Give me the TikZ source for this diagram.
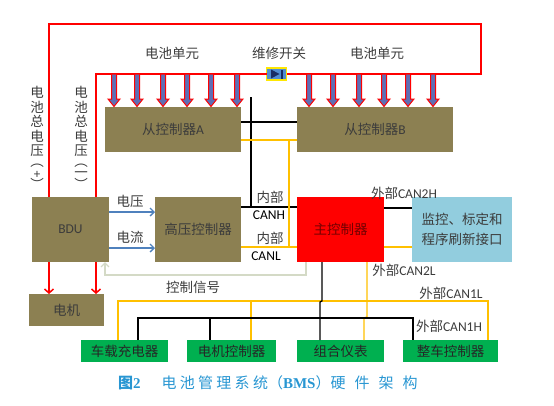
\documentclass[tikz,border=0pt]{standalone}
\usepackage{fontspec}
\setmainfont{Noto Sans CJK SC}
\newfontfamily\lat{Carlito}
\newfontfamily\capser{Liberation Serif}
\usetikzlibrary{arrows.meta}
\definecolor{olivebox}{RGB}{140,128,82}
\definecolor{greenbox}{RGB}{0,176,80}
\definecolor{bluebox}{RGB}{146,205,222}
\definecolor{canyel}{RGB}{255,192,0}
\definecolor{sigline}{RGB}{212,218,198}
\definecolor{volt}{RGB}{79,129,189}
\definecolor{cellfill}{RGB}{95,110,180}
\definecolor{captxt}{RGB}{40,150,210}
\definecolor{txtgray}{RGB}{60,60,60}
\definecolor{swfill}{RGB}{80,140,210}
\definecolor{swdark}{RGB}{25,45,100}
\newcommand\gp{\hspace{3.3pt}}
\newcommand\gq{\hspace{9pt}}
\begin{document}
\begin{tikzpicture}[x=1pt,y=-1pt,
  every node/.style={inner sep=0pt, outer sep=0pt, text=txtgray, font=\fontsize{13.5}{15}\selectfont},
  olive/.style={fill=olivebox, minimum height=#1},
  gbox/.style={fill=greenbox, minimum height=22pt, text=black!85},
  lbl/.style={text=txtgray},
  redline/.style={draw=red, line width=1.5pt},
  canh/.style={draw=black, line width=1.3pt},
  canl/.style={draw=canyel, line width=1.3pt},
  vlt/.style={draw=volt, line width=1.3pt, -{Straight Barb[length=4pt,width=8pt]}},
  redarr/.style={draw=red, line width=1.5pt, -{Straight Barb[length=4pt,width=9pt]}},
  sig/.style={draw=sigline, line width=1.4pt, -{Straight Barb[length=4pt,width=8pt]}},
  cellarr/.style={draw=red, fill=cellfill, line width=1pt, line join=miter}
]
\useasboundingbox (0,0) rectangle (554,405);

% boxes
\node[olive=45pt, minimum width=136pt] (A) at (173,129.5) {从控制器{\lat A}};
\node[olive=45pt, minimum width=156pt] (B) at (375,129.5) {从控制器{\lat B}};
\node[olive=65pt, minimum width=77pt] (BDU) at (70.5,229.5) {\lat BDU};
\node[olive=65pt, minimum width=86pt] (HV) at (198,229.5) {高压控制器};
\node[fill=red, minimum height=65pt, minimum width=87pt, text=red!45!black] (M) at (340.5,229.5) {主控制器};
\node[fill=bluebox, minimum height=65pt, minimum width=100pt, align=center, font=\fontsize{13.5}{20}\selectfont] (Mon) at (462,229.5) {监控、标定和\\程序刷新接口};
\node[olive=32pt, minimum width=75pt] (Mot) at (66.5,310) {电机};
\node[gbox, minimum width=87pt] (G1) at (124.5,351) {车载充电器};
\node[gbox, minimum width=89pt] (G2) at (231.5,351) {电机控制器};
\node[gbox, minimum width=87pt] (G3) at (340.5,351) {组合仪表};
\node[gbox, minimum width=95pt] (G4) at (450.5,351) {整车控制器};

% maintenance switch
\node[fill=swfill, draw=yellow!90!orange, line width=1.5pt, minimum width=20pt, minimum height=12pt] (sw) at (276.5,74) {};
\fill[swdark] (271,69.5) -- (279.5,74) -- (271,78.5) -- cycle;
\fill[swdark] (280.5,69.5) rectangle (282.5,78.5);

% red battery lines
\draw[redline] (49,0 |- BDU.north) -- (49,24) -- (481,24) -- (481,74) -- (sw.east);
\draw[redline] (96,0 |- BDU.north) -- (96,74) -- (sw.west);

% battery cell arrows
\foreach \x in {114,137,163,187,211,237,309,333,359,384,408,433} {
  \draw[cellarr] (\x-2.5,74) -- (\x+2.5,74) -- (\x+2.5,99) -- (\x+6,99) -- (\x,106.5) -- (\x-6,99) -- (\x-2.5,99) -- cycle;
}

% BDU to motor
\draw[redarr] (49,0 |- BDU.south) -- (49,0 |- Mot.north);
\draw[redarr] (96,0 |- BDU.south) -- (96,0 |- Mot.north);

% voltage / current
\draw[vlt] (BDU.east |- 0,212) -- (HV.west |- 0,212);
\draw[vlt] (BDU.east |- 0,248) -- (HV.west |- 0,248);

% control signal
\draw[sig] (306,0 |- M.south) -- (306,275) -- (105,275) -- (105,0 |- BDU.south);

% internal CAN
\draw[canh] (251,97) -- (251,207);
\draw[canh] (A.east |- 0,122) -- (B.west |- 0,122);
\draw[canh] (HV.east |- 0,207) -- (M.west |- 0,207);
\draw[canl] (A.east |- 0,140) -- (B.west |- 0,140);
\draw[canl] (289,140) -- (289,247);
\draw[canl] (HV.east |- 0,247) -- (M.west |- 0,247);

% external CAN2
\draw[canh] (M.east |- 0,208) -- (Mon.west |- 0,208);
\draw[canl] (M.east |- 0,247) -- (Mon.west |- 0,247);

% external CAN1
\draw[canl] (118,0 |- G1.north) -- (118,301) -- (488,301) -- (488,0 |- G4.north);
\draw[canl] (251,301) -- (251,0 |- G2.north);
\draw[canl] (367,0 |- M.south) -- (367,317) -- (364,318) -- (364,0 |- G3.north);
\draw[canh] (138,0 |- G1.north) -- (138,318) -- (413,318) -- (413,0 |- G4.north);
\draw[canh] (210,318) -- (210,0 |- G2.north);
\draw[canh] (322,0 |- M.south) -- (322,301) -- (320,302) -- (320,0 |- G3.north);

% labels
\node[lbl] (t1) at (172,53) {电池单元};
\node[lbl] (t2) at (377,53) {电池单元};
\node[lbl] (t3) at (279,53) {维修开关};
\node[lbl, align=center, font=\fontsize{13.5}{14.6}\selectfont] (v1) at (37,121.5) {电\\池\\总\\电\\压};
\node[lbl] (v1a) at (37,166) {︵};
\node[lbl, font=\lat\fontsize{13}{14}\selectfont] (v1b) at (37,175) {+};
\node[lbl] (v1c) at (37,184) {︶};
\node[lbl, align=center, font=\fontsize{13.5}{14.6}\selectfont] (v2) at (81,121.5) {电\\池\\总\\电\\压};
\node[lbl] (v2a) at (81,166) {︵};
\node[lbl] (v2b) at (81,175) {一};
\node[lbl] (v2c) at (81,184) {︶};
\node[lbl] (l1) at (130,201) {电压};
\node[lbl] (l2) at (130,237) {电流};
\node[lbl] (l3) at (270,197) {内部};
\node[lbl, font=\lat\fontsize{13.5}{15}\selectfont, text=black] (l4) at (269,215) {CANH};
\node[lbl] (l5) at (270,238) {内部};
\node[lbl, font=\lat\fontsize{13.5}{15}\selectfont, text=black] (l6) at (266,256) {CANL};
\node[lbl] (l7) at (404,193) {外部{\lat CAN2H}};
\node[lbl] (l8) at (404,270) {外部{\lat CAN2L}};
\node[lbl] (l9) at (193,287) {控制信号};
\node[lbl] (l10) at (451,293) {外部{\lat CAN1L}};
\node[lbl] (l11) at (449,326) {外部{\lat CAN1H}};

% caption
\node[anchor=west, text=captxt, font=\fontsize{15}{17}\selectfont] (cap) at (118,383)
  {{\bfseries 图{\capser 2}}\hspace{21pt}电\gp 池\gp 管\gp 理\gp 系\gp 统（{\capser\bfseries BMS}）硬\gq 件\gq 架\gq 构};
\end{tikzpicture}
\end{document}
